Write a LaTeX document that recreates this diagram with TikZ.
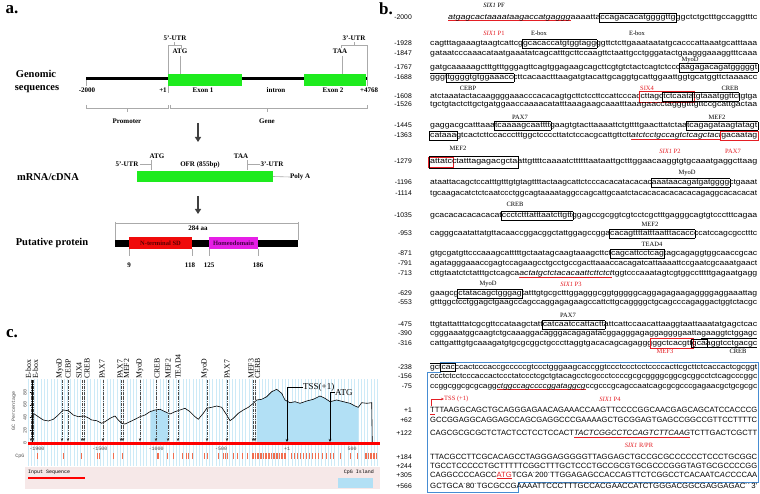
\documentclass[tikz,border=0pt]{standalone}
\usepackage{fontspec}
\usepackage{graphicx}
\setmainfont{Liberation Serif}
\newfontfamily\seqf{Liberation Sans}
\newfontfamily\monof{Liberation Mono}
\usetikzlibrary{arrows.meta}
\definecolor{bred}{RGB}{228,30,36}
\definecolor{exgreen}{RGB}{30,235,30}
\definecolor{nred}{RGB}{240,10,10}
\definecolor{magen}{RGB}{230,30,230}
\definecolor{cpgfill}{RGB}{178,224,245}
\definecolor{stripec}{RGB}{205,234,247}
\definecolor{legbg}{RGB}{246,232,232}
\definecolor{cblue}{RGB}{70,140,210}
\definecolor{cpgtick}{RGB}{240,110,80}
\definecolor{glin}{RGB}{170,170,170}
\newsavebox\prbox
\newcommand\bx[1]{{\setlength\fboxsep{0.5pt}\setlength\fboxrule{0.5pt}\kern-1pt\fbox{\rule[-1.8pt]{0pt}{7pt}#1}\kern-1pt}}
\newcommand\rbx[1]{{\setlength\fboxsep{0.9pt}\setlength\fboxrule{0.7pt}\kern-1.6pt\textcolor{bred}{\fbox{\color{black}\rule[-2.1pt]{0pt}{7.4pt}#1}}\kern-1.6pt}}
\newcommand\pr[1]{\sbox\prbox{\itshape #1}\rlap{\textcolor{bred}{\rule[-1.8pt]{\wd\prbox}{0.6pt}}}\usebox\prbox}
\newcommand\rul[1]{\sbox\prbox{#1}\rlap{\textcolor{bred}{\rule[-1.8pt]{\wd\prbox}{0.7pt}}}\usebox\prbox}
\newcommand\ulb[1]{\sbox\prbox{#1}\rlap{\rule[-2.8pt]{\wd\prbox}{0.5pt}}\usebox\prbox}
\newcommand\olb[1]{\sbox\prbox{#1}\rlap{\rule[5.7pt]{\wd\prbox}{0.5pt}}\usebox\prbox}
\newcommand\tsup{\textsuperscript{-}}
\newcommand\seqrow[6]{%
  \node[numl] (n#1) at (412,#2) {#3};
  \node[seql] (s#1) at (#4,#2) {\resizebox{#5pt}{\height}{#6}};}
\tikzset{
  numl/.style={anchor=base east, inner sep=0, font=\seqf\fontsize{6.8}{7}\selectfont},
  seql/.style={anchor=base west, inner sep=0, font=\seqf\fontsize{7.6}{8}\selectfont},
  mlab/.style={inner sep=0, font=\fontsize{6.5}{7}\selectfont},
  rlab/.style={mlab, text=bred},
  lbig/.style={inner sep=0, font=\fontsize{17}{18}\selectfont\bfseries},
  rowlab/.style={inner sep=0, font=\fontsize{10.5}{12}\selectfont\bfseries},
  slab/.style={inner sep=0, font=\fontsize{7}{8}\selectfont\bfseries},
  gl/.style={glin, line width=0.6pt},
  bigarrow/.style={draw=black!75, line width=1.6pt, -{Triangle[width=6pt,length=5pt]}},
  exonbox/.style={fill=exgreen, inner sep=0, draw=none},
  tflab/.style={inner sep=0, rotate=90, anchor=west, font=\fontsize{7.8}{8}\selectfont},
  tfline/.style={black!70, line width=0.5pt, dash pattern=on 3pt off 1pt on 0.8pt off 1pt},
  tiny/.style={inner sep=0, font=\monof\fontsize{5}{5}\selectfont, text=black!70},
  cann/.style={inner sep=0, font=\fontsize{9}{10}\selectfont}
}
\begin{document}
\begin{tikzpicture}[x=1pt,y=-1pt]
\useasboundingbox (0,0) rectangle (760,494);
\fill[white] (0,0) rectangle (760,494);

% ================= panel a =================
\node[lbig] (lA) at (12,10) {a.};
\node[rowlab] (gen1) at (36,74) {Genomic};
\node[rowlab] (gen2) at (37,89) {sequences};
\draw[gl] (168,48) -- (168,93);
\draw[gl] (367,48) -- (367,86);
\draw[gl] (86,79) -- (86,86);
\draw[gl] (180.5,56) -- (180.5,74);
\draw[gl] (342,56) -- (342,74);
\draw[gl] (168,48) -- (168,45) -- (181,45) -- (181,48);
\draw[gl] (174.5,45) -- (174.5,42.5);
\draw[gl] (341,48) -- (341,45) -- (367,45) -- (367,48);
\draw[gl] (354,45) -- (354,42.5);
\draw[line width=3pt] (86,79) -- (367,79);
\node[exonbox, minimum width=74pt, minimum height=12pt] (ex1) at (205,80) {};
\node[exonbox, minimum width=62pt, minimum height=12pt] (ex2) at (335,80) {};
\node[slab] (u5) at (175,38) {5'-UTR};
\node[slab] (atg1) at (180,51.5) {ATG};
\node[slab] (u3) at (354,38) {3'-UTR};
\node[slab] (taa1) at (340,51.5) {TAA};
\node[slab] (m2000) at (87,90) {-2000};
\node[slab] (p1) at (163,90) {+1};
\node[slab] (tex1) at (203,90) {Exon 1};
\node[slab] (tint) at (276,90) {intron};
\node[slab] (tex2) at (333,90) {Exon 2};
\node[slab] (p4768) at (369,90) {+4768};
\draw[gl] (86,105) -- (86,108.5) -- (168,108.5) -- (168,105);
\draw[gl] (127,108.5) -- (127,112);
\draw[gl] (170,105) -- (170,108.5) -- (367,108.5) -- (367,105);
\draw[gl] (267,108.5) -- (267,112);
\node[slab] (prom) at (127,121) {Promoter};
\node[slab] (gene) at (267,121) {Gene};
\coordinate (ar1a) at (198,123);
\coordinate (ar1b) at (198,142);
\draw[bigarrow] (ar1a) -- (ar1b);

% mRNA
\node[rowlab] (mrna) at (48,177) {mRNA/cDNA};
\node[slab] (atg2) at (157,156) {ATG};
\node[slab] (taa2) at (241,156) {TAA};
\node[slab] (u5b) at (127,164.5) {5'-UTR};
\node[slab] (ofr) at (200,164.5) {OFR (855bp)};
\node[slab] (u3b) at (272,164.5) {3'-UTR};
\draw[gl] (u5b.east) ++(1,0) -- (151,164.5);
\draw[gl] (151,160.5) -- (151,170);
\draw[gl] (247,160.5) -- (247,170);
\draw[gl] (247,164.5) -- (u3b.west);
\node[exonbox, minimum width=136pt, minimum height=11pt] (mbar) at (205,176.5) {};
\node[slab, anchor=west] (polya) at (290,177) {Poly A};
\draw[gl] (mbar.east) -- (polya.west);
\coordinate (ar2a) at (198,196);
\coordinate (ar2b) at (198,214);
\draw[bigarrow] (ar2a) -- (ar2b);

% protein
\node[rowlab] (prot) at (52,243) {Putative protein};
\node[slab] (aa) at (198,228.5) {284 aa};
\draw[gl] (115,222) -- (115,240);
\draw[gl] (298,222) -- (298,240);
\draw[gl] (115,223.5) -- (298,223.5);
\node[fill=black, inner sep=0, minimum width=183pt, minimum height=7pt] (pbar) at (206.5,243.5) {};
\node[fill=nred, inner sep=0, minimum width=63pt, minimum height=12pt, font=\fontsize{6.5}{7}\selectfont\bfseries, text={rgb,255:red,90;green,0;blue,0}] (nsd) at (160.5,243) {N-terminal SD};
\node[fill=magen, inner sep=0, minimum width=49pt, minimum height=12pt, font=\fontsize{6.5}{7}\selectfont\bfseries, text={rgb,255:red,70;green,0;blue,70}] (hd) at (233.5,243) {Homeodomain};
\draw[gl] (129,249) -- (129,256);
\draw[gl] (192,249) -- (192,256);
\draw[gl] (209,249) -- (209,256);
\draw[gl] (258,249) -- (258,256);
\node[slab] (a9) at (129,265) {9};
\node[slab] (a118) at (190,265) {118};
\node[slab] (a125) at (209,265) {125};
\node[slab] (a186) at (258,265) {186};

% ================= panel c =================
\node[lbig] (lC) at (12,334) {c.};
\foreach \i in {0,...,106} \draw[stripec, line width=1pt] ({28+3.3*\i},379) -- ({28+3.3*\i},466);
\fill[cpgfill] (151,443)--(151,411.5)--(155,410)--(160,409.3)--(165,411.7)--(168,413.2)--(168,443)--cycle;
\fill[cpgfill] (256.7,443)--(256.7,400)--(261.7,399.3)--(266.7,396.7)--(271.7,391.7)--(276.7,389.3)--(281.7,393.3)--(285,400)--(290,402.7)--(295,401.7)--(300,403.3)--(306.7,401)--(313.3,399.3)--(320,396)--(325,398.3)--(330,401.7)--(336.7,400)--(343.3,401.7)--(350,403.3)--(355,406)--(358.3,407.3)--(358.3,443)--cycle;
\draw[black, line width=0.6pt] (32.3,443.3)--(33.3,413.3)--(38.3,416.7)--(43.3,420)--(48.3,421)--(53.3,419.3)--(58.3,415)--(63.3,410)--(68.3,410.7)--(73.3,415)--(78.3,416.7)--(83.3,416)--(87.3,417.3)--(91.7,420)--(96.7,420.7)--(101.7,423.3)--(105,421.7)--(110,418.3)--(115,416)--(118.3,420)--(121.7,423.3)--(125,424)--(130,421.7)--(135,419.3)--(140,416.7)--(145,415)--(150,411.7)--(155,410)--(160,409.3)--(165,411.7)--(170,414)--(175,411.7)--(180,410)--(185,408.3)--(190,411.7)--(195,416.7)--(198.3,419.3)--(203.3,413.3)--(206.7,408.3)--(211.7,407.3)--(216.7,406)--(221.7,407.3)--(226.7,415)--(230,420.7)--(233.3,418.3)--(238.3,413.3)--(243.3,410)--(248.3,407.3)--(253.3,403.3)--(256.7,400)--(261.7,399.3)--(266.7,396.7)--(271.7,391.7)--(276.7,389.3)--(281.7,393.3)--(285,400)--(290,402.7)--(295,401.7)--(300,403.3)--(306.7,401)--(313.3,399.3)--(320,396)--(325,398.3)--(330,401.7)--(336.7,400)--(343.3,401.7)--(350,403.3)--(355,406)--(358.3,407.3)--(361.7,402.7)--(366.7,403.3)--(371.7,402.7)--(372.3,443.3);
\draw[black, line width=0.6pt] (32,380) -- (32,443);
\foreach \v/\yy in {0/443,20/430.3,40/417.6,60/404.9,80/392.2} {
  \draw[black] (29.5,\yy) -- (32,\yy);
  \node[tiny, rotate=90] (yt\v) at (25,\yy) {\v};
}
\node[tiny, rotate=90] (gcp) at (14,411) {GC Percentage};
\foreach \xx in {31,33,62,68,82,84,103,121,123,140,156,168,178,207,227,253,255} {
  \draw[tfline] (\xx,380) -- (\xx,440);
  \fill[black!75] (\xx-1.3,438.5) -- (\xx+1.3,438.5) -- (\xx,441.5) -- cycle;
}
\foreach \xx/\t [count=\k] in {28.5/E-box,35.5/E-box,60/MyoD,68/CEBP,79/SIX4,87/CREB,102/PAX7,120/PAX7,126.5/MEF2,140/MyoD,157/CREB,168/MEF2,178/TEAD4,205/MyoD,227/PAX7,251/MEF3,257.5/CERB}
  \node[tflab] (tf\k) at (\xx,379) {\t};
\draw[red, line width=2.5pt] (28,443.5) -- (380,443.5);
\node[cann, anchor=west] (tssc) at (303,387) {TSS(+1)};
\draw[black, line width=0.5pt, -{Stealth[length=3pt,width=2.5pt]}] (tssc.west) -| (287,442);
\node[cann, anchor=west] (atgc) at (335,392.5) {ATG};
\draw[black, line width=0.5pt, -{Stealth[length=3pt,width=2.5pt]}] (atgc.west) -| (330,442);
\foreach \xx/\t [count=\k] in {37/-1900,100/-1500,156/-1000,221/-500,287/+1,352/500}
  \node[tiny] (xl\k) at (\xx,448.5) {\t};
\node[tiny] (cpgl) at (20,456.5) {CpG};
\foreach \xx in {37,63,81,97,99,113,122,157.5,158.5,167,173,182,186,188,192,204,207,218,223,225,227,233,237,242,247,291,294,297,300,303,306,309,312,315,318,322,326,330,333,340,350,357}
  \draw[cpgtick, line width=0.6pt] (\xx,453) -- (\xx,459);
\foreach \xx in {252,253.6,...,287} \draw[cpgtick, line width=0.6pt] (\xx,453) -- (\xx,459);
\foreach \xx in {365,366.6,...,377} \draw[cpgtick, line width=0.6pt] (\xx,453) -- (\xx,459);
\fill[legbg] (25,467) rectangle (380,489);
\node[tiny, anchor=west, text=black] (insq) at (28,472.5) {Input Sequence};
\fill[red] (28,476.5) rectangle (85,479);
\node[tiny, anchor=east, text=black] (cpgi) at (374,472.5) {CpG Island};
\fill[cpgfill] (338,478) rectangle (373,487.5);

% ================= panel b =================
\node[lbig] (lB) at (386,9) {b.};
\draw[cblue, line width=0.8pt] (427,372) -- (440,372) -- (440,362) -- (758,362) -- (758,482) -- (518,482) -- (518,492.5) -- (427,492.5) -- cycle;

\seqrow{1}{19.3}{-2000}{448}{309}{\pr{atgagcactaaaataagaccatgaggg}aaaatta\bx{ccagacacatggggttg}ggctctgctttgccaggtttc}
\seqrow{2}{45.5}{-1928}{430}{327}{cagtttagaaagtaagtcattcg\bx{gcacaccatgtggtagg}ggttctcttgaaataatatgcacccattaaatgcatttaaa}
\seqrow{3}{55.5}{-1847}{430}{327}{gataatcccaaacataatgaaatatcagcatttgcttccaagttctaattgcctgggatactgaagggaaaggtttcaaa}
\seqrow{4}{69.5}{-1767}{430}{327}{gatgcaaaaagctttgtttgggagttcagtggagaagcagcttcgtgtctactcagtctccc\bx{aagagacagatgggggt}}
\seqrow{5}{79.5}{-1688}{430}{327}{\olb{gggt}\bx{tggggtgtggaaacc}cttcacaactttaagatgtacattgcaggtgcattggaattggtgcatggttctaaaacc}
\seqrow{6}{98.5}{-1608}{430}{327}{atctaaatactacaaggggaaacccacacagtgcttctccttccattcccac\rbx{cttagc\bx{tctcaata}}\bx{tgtaaatggttc}tgtga}
\seqrow{7}{107}{-1526}{430}{327}{tgctgtactcttgctgatggaaccaaaacatatttaaagaagcaaatttaaagaacctagggtttgttccgcattgactaa}
\seqrow{8}{127.5}{-1445}{430}{327}{gaggacgcatttaaa\bx{tcaaaagcaatttt}gaagtgtacttaaaattctgttttgaacttatctaa\bx{tcagagataagtatagt}}
\seqrow{9}{137.5}{-1363}{430}{327}{\bx{cataaa}gtcactcttccaccctttggctccccttatctccacgcattgttctt\pr{atctcctgccagtctcagctact}\rbx{gacaatag}}
\seqrow{10}{164}{-1279}{430}{327}{\bx{\rbx{attatc}ctatttagagacgcta}attgttttcaaaatcttttttaataattgctttggaacaaggtgtgcaaatgaggcttaag}
\seqrow{11}{184.5}{-1196}{430}{327}{ataattacagctccatttgtttgtgtagttttactaagcattctcccacacatacacac\bx{aaataacagatgatgggg}ctgaaat}
\seqrow{12}{195.5}{-1114}{430}{327}{tgcaagacatctctcaatccctggcagtaaaataggccagcattgcaatctacacacacacacacagaggcacacacat}
\seqrow{13}{217.5}{-1035}{430}{327}{gcacacacacacacat\bx{ccctctttatttaatcttgtt}ggagccgcggtcgtcctcgctttgagggcagtgtccctttcagaa}
\seqrow{14}{235.5}{-953}{430}{327}{cagggcaatattatgttacaaccggacggctattggagccgga\bx{cacagttttatttaatttacacc}ccatccagcgcctttc}
\seqrow{15}{255.5}{-871}{430}{327}{gtgcgatgttcccaaagcatttttgctaatagcaagtaaagcttct\bx{cagcattcctcag}tagcagaggtggcaaccgcac}
\seqrow{16}{265.5}{-791}{430}{327}{agatagggaaaccgagtccagaagcctgcctgccgacttaaaccacagatcattaaaattccgaatcgcaaatgaact}
\seqrow{17}{275.5}{-713}{430}{327}{cttgtaatctctatttgctcagca\pr{actatgctctacacaattcttctct}tggtcccaaatagtcgtggcctttttgagaatgagg}
\seqrow{18}{295.5}{-629}{430}{327}{gaagcg\bx{ctatacagctgggag}tatttgtgcgctttggagggcggtgggggcaggagagaagaggggaggaaattag}
\seqrow{19}{304.5}{-553}{430}{327}{gtttggctcctggagctgaagccagccaggagagaagccattcttgcaggggctgcagcccagaggactggtctacgc}
\seqrow{20}{326.5}{-475}{430}{327}{ttgtattatttatcgcgttccataagctatt\bx{catcaatccattactt}attcattccaacattaaggtaattaaatatgagctcac}
\seqrow{21}{335.5}{-390}{430}{327}{cgggaaatggcaagtctgcaaaggacagggacagagatacggagggagaggaggggaatta\ulb{gaaggtctggagc}}
\seqrow{22}{345}{-316}{430}{327}{cattgatttgtgcaaagatgtgcgcggctgcccttaggtgacacagcagaggg\rbx{ggctcacgtt}\bx{gca}\ulb{aggtcctgacgc}}
\seqrow{23}{369}{-238}{430}{327}{\olb{gct}\bx{cac}ccactcccaccgcccccgtccctgggaagcaccggtccctccctcctccccacttcgcttctcaccactcgcggt}
\seqrow{24}{378.5}{-156}{430}{327}{ccctctcctcccaccactccctatccctcgctgtacagcctcgccctccccgcgcggggcggcgcggcctctcagcccggc}
\seqrow{25}{388}{-75}{430}{327}{ccggcggcgcgcagg\pr{ctggccagccccggataggcg}ccgcccgcagccaatcagcgcgcccgagaacgctgcgcgc}
\seqrow{26}{412.5}{+1}{430}{327}{\rul{T}TTAAGGCAGCTGCAGGGAGAACAGAAACCAAGTTCCCCGGCAACGAGCAGCATCCACCCG}
\seqrow{27}{422.5}{+62}{430}{327}{GCCGGAGGCAGGAGCCAGCGAGGCCCGAAAAGCTGCGGAGTGAGCCGGCCGTTCCTTTTC}
\seqrow{28}{435.5}{+122}{430}{327}{CAGCGCGCGCTCTACTCCTCCTCCACT\pr{TACTCGGCCTCCAGTCTTCAAG}TCTTGACTCGCTT}
\seqrow{29}{459}{+184}{430}{327}{TTACGCCTTCGCACAGCCTAGGGAGGGGGTTAGGAGCTGCCGCGCCCCCCTCCCTGCGGC}
\seqrow{30}{468}{+244}{430}{327}{TGCCTCCCCCTGCTTTTTCGGCTTTGCTCCCTGCCGCGTGCGCCCGGGTAGTGCGCCCCGG}
\seqrow{31}{477}{+305}{430}{327}{CAGGCCCCAGCC\rul{\textcolor{bred}{ATG}}TCGA\tsup200\tsup TTGGAGAGCCACCAGTTCTCGGCCTCACAATC\textit{AC}CCCAA}
\seqrow{32}{488.5}{+566}{430}{327}{GCTGCA\tsup80\tsup TGCGCCGAAAATTCCCTTTGCCACGAACCATCTGGGACGGCGAGGAGAC\tsup\tsup\,3'}

\node[mlab] (lpf) at (494,5) {\textit{SIX1} PF};
\node[rlab] (lp1) at (494,33) {\textit{SIX1} P1};
\node[mlab] (le1) at (539,33) {E-box};
\node[mlab] (le2) at (637,33) {E-box};
\node[mlab] (lmy1) at (690,60) {MyoD};
\node[mlab] (lce) at (468,88) {CEBP};
\node[rlab] (ls4) at (647,88) {SIX4};
\node[mlab] (lcr1) at (730,88) {CREB};
\node[mlab] (lpx1) at (520,117) {PAX7};
\node[mlab] (lmf1) at (717,117) {MEF2};
\node[mlab] (lmf2) at (458,148) {MEF2};
\node[rlab] (lp2) at (670,151) {\textit{SIX1} P2};
\node[rlab] (lpx2) at (733,151) {PAX7};
\node[mlab] (lmy2) at (687,173) {MyoD};
\node[mlab] (lcr2) at (515,204) {CREB};
\node[mlab] (lmf3) at (650,224) {MEF2};
\node[mlab] (lte) at (652,244) {TEAD4};
\node[mlab] (lmy3) at (488,284) {MyoD};
\node[rlab] (lp3) at (571,284) {\textit{SIX1} P3};
\node[mlab] (lpx3) at (568,315) {PAX7};
\node[rlab] (lm3) at (665,351) {MEF3};
\node[mlab] (lcr3) at (738,351) {CREB};
\node[rlab, anchor=west] (ltss) at (444,399) {TSS (+1)};
\coordinate (tssbase) at (431.5,406);
\draw[bred, line width=0.6pt, -{Stealth[length=3pt,width=2.5pt]}] (tssbase) |- (ltss.west);
\node[rlab] (lp4) at (610,399) {\textit{SIX1} P4};
\node[rlab] (lrp) at (639,445) {\textit{SIX1} R/PR};
\end{tikzpicture}
\end{document}
